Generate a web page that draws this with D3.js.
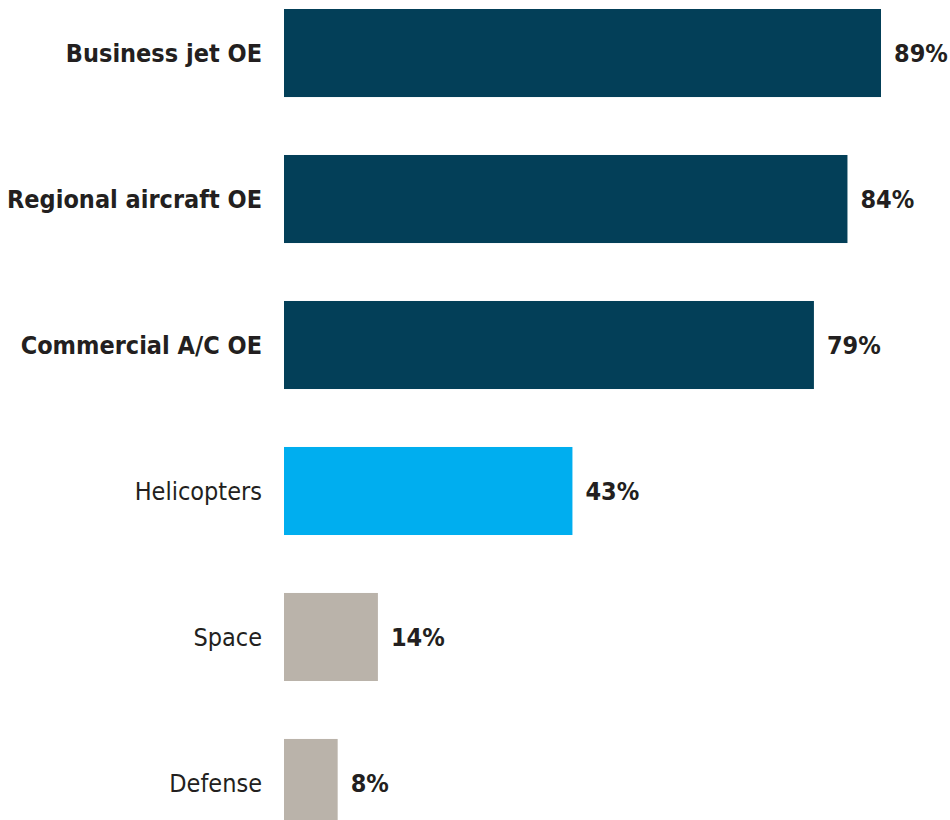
<!DOCTYPE html>
<html lang="en">
<head>
<meta charset="utf-8">
<title>OE share by segment</title>
<style>
  html, body { margin: 0; padding: 0; background: #fff; }
  svg text { font-family: 'Liberation Sans Narrow', 'DejaVu Sans Condensed', 'Roboto', sans-serif; fill: #231f20; }
  .cat { font-size: 25px; }
  .cat.bold { font-weight: bold; }
  .val { font-size: 25px; font-weight: bold; }
</style>
</head>
<body>
<svg width="950" height="820"></svg>
<script src="https://cdn.jsdelivr.net/npm/d3@7"></script>
<script>
var categories = ["Business jet OE", "Regional aircraft OE", "Commercial A/C OE", "Helicopters", "Space", "Defense"];
var values = [89, 84, 79, 43, 14, 8];
var groups = ["main", "main", "main", "mid", "low", "low"];
var valueLabels = ["89%", "84%", "79%", "43%", "14%", "8%"];

var colors = { main: "#033f58", mid: "#00aeef", low: "#bab3aa" };

var data = categories.map(function(c, i) {
  return { name: c, value: values[i], group: groups[i], label: valueLabels[i] };
});

var svg = d3.select("svg");

var x = d3.scaleLinear().domain([0, 89]).range([284, 881]);
var y = d3.scaleBand().domain(categories).range([9, 827]).paddingInner(0.397).paddingOuter(0);

svg.selectAll(".bar")
  .data(data)
  .enter().append("rect")
    .attr("class", "bar")
    .attr("x", x(0))
    .attr("y", function(d) { return y(d.name); })
    .attr("width", function(d) { return x(d.value) - x(0); })
    .attr("height", y.bandwidth())
    .attr("fill", function(d) { return colors[d.group]; });

// category labels on the left
svg.selectAll(".cat")
  .data(data)
  .enter().append("text")
    .attr("class", function(d) { return d.group == "main" ? "cat bold" : "cat"; })
    .attr("x", x(0) - 22)
    .attr("y", function(d) { return y(d.name) + y.bandwidth() / 2; })
    .attr("dy", "0.35em")
    .attr("text-anchor", "end")
    .text(function(d) { return d.name; });

// value labels
svg.selectAll(".val")
  .data(data)
  .enter().append("text")
    .attr("class", "val")
    .attr("x", function(d) { return x(d.value) + 13; })
    .attr("y", function(d) { return y(d.name) + y.bandwidth() / 2; })
    .attr("dy", "0.35em")
    .text(function(d) { return d.label; });
</script>
</body>
</html>
